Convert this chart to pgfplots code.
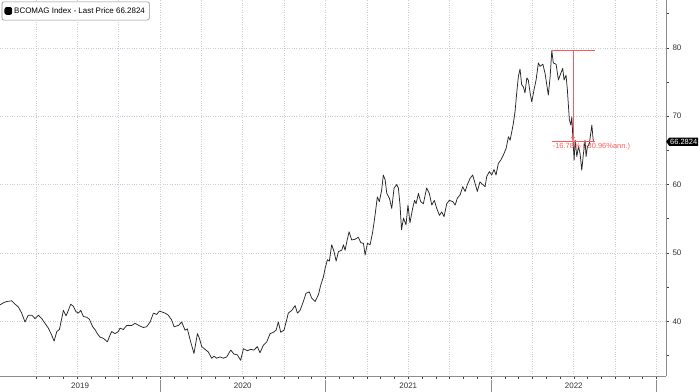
\documentclass[border=0pt]{standalone}
\usepackage{pgfplots}
\pgfplotsset{compat=1.18}
\usepackage{fontspec}
\setmainfont{Liberation Sans}
\usetikzlibrary{shapes.symbols,arrows.meta}
\definecolor{gridc}{HTML}{C8CED8}
\definecolor{axc}{HTML}{8C8C8C}
\definecolor{annred}{HTML}{FF5A5A}
\begin{document}
\begin{tikzpicture}
\begin{axis}[
  at={(0bp,0bp)}, anchor=south west,
  width=666bp, height=376bp, scale only axis,
  xmin=2019.033, xmax=2023.057, ymin=32, ymax=87,
  axis x line*=bottom, axis y line*=right,
  axis line style={axc, line width=0.8bp},
  clip=false,
  xtick={2019.25,2019.5,2019.75,2020,2020.25,2020.5,2020.75,2021,2021.25,2021.5,2021.75,2022,2022.25,2022.5,2022.75,2023},
  xticklabels={},
  minor x tick num=2,
  ytick={40,50,60,70,80},
  minor ytick={35,45,55,65,75,85},
  xmajorgrids, ymajorgrids,
  major grid style={gridc, dotted, line width=0.7bp},
  tick align=outside,
  major tick length=3bp, minor tick length=2.5bp,
  every tick/.style={black!75, line width=0.6bp},
  /pgf/number format/assume math mode=true,
  yticklabel style={font=\fontsize{8}{9}\selectfont, text=black!80, xshift=0bp},
  extra x ticks={2019.517,2020.5,2021.5,2022.5},
  extra x tick labels={2019,2020,2021,2022},
  extra x tick style={grid=none, major tick length=0pt,
     tick label style={font=\fontsize{8}{9}\selectfont, text=black!80, yshift=-3bp}},
  legend style={at={(0.0025,0.996)}, anchor=north west, draw=black!45, rounded corners=2bp,
     fill=white, font=\fontsize{8}{9}\selectfont, inner xsep=2.5bp, inner ysep=3.5bp, line width=0.6bp},
  legend image code/.code={\fill[black] (0bp,-3.5bp) rectangle (7bp,3.5bp);},
  legend cell align=left,
]
\addplot[color=black!85, line width=0.75bp, line join=round] table {
2019.033 42.4
2019.053 42.7
2019.074 42.9
2019.104 43.0
2019.124 42.5
2019.144 42.1
2019.164 41.2
2019.184 39.9
2019.204 40.9
2019.225 40.9
2019.245 40.4
2019.265 40.9
2019.285 40.4
2019.305 39.7
2019.325 39.0
2019.345 38.0
2019.360 37.1
2019.376 38.5
2019.392 38.8
2019.416 41.6
2019.432 40.8
2019.446 41.6
2019.460 42.5
2019.476 42.2
2019.492 41.4
2019.507 41.2
2019.521 41.6
2019.537 40.7
2019.557 40.6
2019.573 40.3
2019.593 39.2
2019.607 38.8
2019.621 38.2
2019.637 37.7
2019.658 37.5
2019.682 37.0
2019.698 38.0
2019.708 38.5
2019.728 38.2
2019.748 38.5
2019.758 39.0
2019.778 38.8
2019.799 39.4
2019.829 39.4
2019.849 39.7
2019.879 39.3
2019.899 39.1
2019.919 39.2
2019.940 39.9
2019.960 41.2
2019.980 41.0
2019.996 41.5
2020.030 41.2
2020.050 40.9
2020.070 40.2
2020.085 39.2
2020.111 39.4
2020.131 39.9
2020.151 38.7
2020.165 38.9
2020.185 37.0
2020.205 35.3
2020.226 38.2
2020.238 37.5
2020.252 36.3
2020.272 35.9
2020.292 35.5
2020.312 34.6
2020.326 34.9
2020.342 34.6
2020.363 34.8
2020.383 34.6
2020.403 34.8
2020.427 35.8
2020.447 35.2
2020.467 35.1
2020.487 34.3
2020.504 36.0
2020.528 35.7
2020.548 35.9
2020.568 35.8
2020.588 36.3
2020.604 35.4
2020.624 36.5
2020.645 37.0
2020.665 38.2
2020.685 38.4
2020.701 38.7
2020.715 39.9
2020.729 38.4
2020.749 38.7
2020.765 40.2
2020.775 41.2
2020.796 41.6
2020.816 42.3
2020.830 41.2
2020.846 41.6
2020.866 42.9
2020.882 44.1
2020.902 44.3
2020.916 43.4
2020.937 42.9
2020.957 43.9
2020.971 45.3
2020.987 46.5
2020.997 47.7
2021.011 49.0
2021.023 48.8
2021.037 51.2
2021.051 50.2
2021.064 48.8
2021.078 50.2
2021.098 50.4
2021.108 51.2
2021.118 50.4
2021.128 51.6
2021.142 53.1
2021.158 51.9
2021.178 52.0
2021.198 52.3
2021.213 51.5
2021.229 51.4
2021.239 49.7
2021.253 51.4
2021.269 51.2
2021.285 53.1
2021.299 55.5
2021.313 58.2
2021.325 57.5
2021.339 59.2
2021.349 61.4
2021.360 60.7
2021.370 58.7
2021.386 58.0
2021.400 56.5
2021.414 59.5
2021.430 60.0
2021.440 59.5
2021.450 57.0
2021.459 53.4
2021.471 55.1
2021.486 54.1
2021.498 57.0
2021.510 54.4
2021.526 56.5
2021.538 57.7
2021.547 57.2
2021.561 58.7
2021.575 57.5
2021.591 57.2
2021.611 59.5
2021.627 58.7
2021.642 57.0
2021.657 57.7
2021.672 56.5
2021.688 55.5
2021.702 56.0
2021.716 55.3
2021.732 57.2
2021.748 57.7
2021.769 57.5
2021.783 57.0
2021.796 58.0
2021.813 58.5
2021.829 59.7
2021.843 59.0
2021.857 60.0
2021.873 60.9
2021.889 61.4
2021.903 60.2
2021.917 59.0
2021.933 60.4
2021.950 60.0
2021.964 59.7
2021.974 61.2
2021.990 61.9
2022.004 61.4
2022.018 62.2
2022.030 61.4
2022.044 63.1
2022.059 63.6
2022.074 64.3
2022.091 65.3
2022.105 67.0
2022.115 66.5
2022.125 67.7
2022.135 69.0
2022.145 70.7
2022.155 73.4
2022.165 75.8
2022.175 76.9
2022.185 74.6
2022.195 74.3
2022.205 73.4
2022.216 75.6
2022.225 75.3
2022.236 73.4
2022.246 72.1
2022.260 73.9
2022.272 75.3
2022.286 77.8
2022.296 77.3
2022.313 77.6
2022.326 76.3
2022.346 73.1
2022.357 75.8
2022.367 79.6
2022.376 77.8
2022.393 77.6
2022.407 75.3
2022.417 76.0
2022.433 77.0
2022.441 75.3
2022.453 76.0
2022.461 73.9
2022.473 69.5
2022.482 68.7
2022.488 69.9
2022.494 67.0
2022.502 63.6
2022.508 66.5
2022.518 64.1
2022.528 65.6
2022.538 64.5
2022.548 62.1
2022.558 64.5
2022.568 66.5
2022.574 64.1
2022.582 65.5
2022.594 66.0
2022.609 68.7
2022.618 66.28
};
\addlegendentry{BCOMAG Index - Last Price 66.2824}
% annotation
\draw[annred, line width=0.8bp] (axis cs:2022.369,79.6) -- (axis cs:2022.628,79.6);
\draw[annred, line width=0.8bp, -{Triangle[open,length=3bp,width=4bp]}] (axis cs:2022.495,79.6) -- (axis cs:2022.495,66.5);
\draw[annred, line width=0.8bp] (axis cs:2022.369,66.3) -- (axis cs:2022.628,66.3);
\node[annred, anchor=west, inner sep=0pt, font=\fontsize{7.5}{9}\selectfont] at (axis cs:2022.372,65.55) {-16.78\% (-30.96\%ann.)};
% year separators
\pgfplotsinvokeforeach{2020,2021,2022,2023}{
  \draw[axc, line width=0.6bp] (axis cs:#1,32) ++(0bp,-4bp) -- ++(0bp,-12bp);
}
% last price tag
\node[signal, signal to=west, signal pointer angle=110, fill=black, text=white, inner xsep=1bp, inner ysep=1.5bp,
  anchor=west, font=\fontsize{7.5}{8}\selectfont] at (axis cs:2023.057,66.28) {66.2824};
\end{axis}
\pgfresetboundingbox
\path (0bp,-16bp) rectangle (700bp,376bp);
\end{tikzpicture}
\end{document}
